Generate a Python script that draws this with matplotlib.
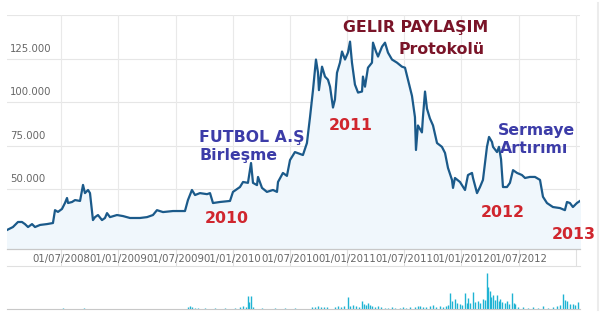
import matplotlib
matplotlib.use('Agg')
import matplotlib.pyplot as plt
from matplotlib.lines import Line2D

# fiyat serisi (zaman ondalik yil olarak)
price_t = [2008.025, 2008.077, 2008.121, 2008.156, 2008.182, 2008.209, 2008.244, 2008.270, 2008.314, 2008.375,
           2008.427, 2008.445, 2008.471, 2008.506, 2008.532, 2008.550, 2008.559, 2008.594, 2008.620, 2008.664,
           2008.690, 2008.707, 2008.734, 2008.751, 2008.777, 2008.795, 2008.821, 2008.856, 2008.882, 2008.900,
           2008.926, 2008.987, 2009.040, 2009.101, 2009.188, 2009.250, 2009.302, 2009.337, 2009.390, 2009.477,
           2009.582, 2009.608, 2009.643, 2009.670, 2009.713, 2009.775, 2009.801, 2009.827, 2009.888, 2009.976,
           2010.002, 2010.063, 2010.090, 2010.133, 2010.160, 2010.177, 2010.212, 2010.221, 2010.256, 2010.299,
           2010.352, 2010.387, 2010.396, 2010.439, 2010.474, 2010.501, 2010.544, 2010.614, 2010.649, 2010.676,
           2010.702, 2010.728, 2010.746, 2010.754, 2010.781, 2010.807, 2010.833, 2010.851, 2010.877, 2010.894,
           2010.912, 2010.938, 2010.956, 2010.982, 2011.008, 2011.026, 2011.043, 2011.069, 2011.096, 2011.131,
           2011.139, 2011.157, 2011.183, 2011.218, 2011.227, 2011.253, 2011.271, 2011.306, 2011.332, 2011.358,
           2011.393, 2011.437, 2011.480, 2011.507, 2011.533, 2011.568, 2011.594, 2011.603, 2011.620, 2011.655,
           2011.664, 2011.682, 2011.699, 2011.725, 2011.752, 2011.787, 2011.830, 2011.857, 2011.883, 2011.918,
           2011.927, 2011.944, 2011.988, 2012.032, 2012.058, 2012.093, 2012.102, 2012.137, 2012.163, 2012.189,
           2012.207, 2012.224, 2012.242, 2012.268, 2012.277, 2012.312, 2012.329, 2012.347, 2012.364, 2012.399,
           2012.425, 2012.452, 2012.487, 2012.530, 2012.557, 2012.600, 2012.644, 2012.688, 2012.714, 2012.749,
           2012.801, 2012.863, 2012.906, 2012.924, 2012.950, 2012.976, 2013.011, 2013.038]
price = [26600, 28300, 31200, 31200, 30000, 28300, 30000, 28300, 29500, 30000,
         30600, 38000, 37000, 38700, 42100, 45000, 42100, 42700, 43800, 43300,
         52500, 47800, 49600, 47800, 32300, 34000, 35200, 32300, 33500, 36300,
         34000, 35200, 34600, 33500, 33500, 34000, 35200, 38000, 36900, 37500,
         37500, 43800, 49600, 46700, 47800, 47200, 47800, 42100, 42700, 43300,
         48500, 51300, 54200, 53700, 65100, 53700, 52400, 57100, 50800, 48500,
         49600, 48500, 54200, 59400, 57700, 66800, 71400, 69700, 76600, 91500,
         107000, 124600, 117000, 107000, 120500, 114800, 113000, 109000, 97000, 101600,
         117000, 122800, 129200, 124600, 128600, 134900, 122800, 110200, 105600, 106200,
         114800, 109000, 119900, 122800, 134300, 129200, 126300, 132000, 134300, 128600,
         124600, 122800, 120500, 119900, 113000, 103700, 91500, 72600, 86700, 82700,
         91500, 106200, 96400, 90700, 86700, 76600, 74400, 70900, 62300, 55400,
         50800, 56500, 54200, 49600, 58200, 59400, 56500, 47800, 51300, 55400,
         65100, 74400, 80100, 77200, 74400, 71400, 74400, 67300, 51300, 51300,
         53700, 61000, 59400, 58200, 56500, 57100, 57100, 55400, 45700, 42100,
         39800, 39200, 38000, 42700, 42100, 39800, 42100, 43300]

# islem hacmi (goreceli)
vol_t = [2008.515, 2008.699, 2009.609, 2009.626, 2009.644, 2009.670, 2009.696, 2009.757, 2009.845, 2009.932,
         2010.020, 2010.064, 2010.090, 2010.116, 2010.134, 2010.142, 2010.160, 2010.177, 2010.256, 2010.370,
         2010.457, 2010.545, 2010.693, 2010.720, 2010.746, 2010.772, 2010.798, 2010.825, 2010.895, 2010.921,
         2010.947, 2010.973, 2011.008, 2011.026, 2011.052, 2011.078, 2011.105, 2011.131, 2011.148, 2011.166,
         2011.183, 2011.201, 2011.218, 2011.245, 2011.271, 2011.297, 2011.332, 2011.358, 2011.393, 2011.419,
         2011.463, 2011.489, 2011.516, 2011.551, 2011.594, 2011.621, 2011.638, 2011.664, 2011.691, 2011.726,
         2011.752, 2011.778, 2011.813, 2011.839, 2011.866, 2011.883, 2011.901, 2011.918, 2011.944, 2011.962,
         2011.988, 2012.006, 2012.032, 2012.049, 2012.058, 2012.076, 2012.102, 2012.119, 2012.146, 2012.163,
         2012.189, 2012.207, 2012.224, 2012.233, 2012.251, 2012.259, 2012.277, 2012.294, 2012.312, 2012.329,
         2012.338, 2012.356, 2012.382, 2012.399, 2012.417, 2012.443, 2012.460, 2012.469, 2012.495, 2012.539,
         2012.583, 2012.627, 2012.670, 2012.714, 2012.758, 2012.802, 2012.837, 2012.863, 2012.889, 2012.907,
         2012.924, 2012.950, 2012.977, 2012.994, 2013.020]
vol = [1, 1, 2, 3, 2, 1, 1, 1, 1, 1,
       1, 2, 3, 2, 13, 7, 13, 2, 1, 1,
       1, 1, 2, 2, 3, 2, 2, 2, 2, 3,
       2, 3, 12, 3, 4, 3, 2, 8, 5, 4,
       6, 4, 3, 2, 3, 2, 1, 1, 2, 1,
       1, 2, 1, 2, 2, 3, 3, 2, 2, 3,
       4, 2, 3, 2, 3, 4, 16, 8, 10, 6,
       5, 4, 16, 6, 11, 6, 17, 7, 8, 6,
       10, 9, 36, 22, 18, 12, 14, 9, 14, 8,
       10, 7, 6, 8, 5, 16, 6, 5, 2, 2,
       1, 2, 1, 3, 1, 2, 3, 4, 15, 9,
       8, 5, 5, 4, 7]

tick_pos = [2008.5, 2009.0, 2009.5, 2010.0, 2010.5, 2011.0, 2011.5, 2012.0, 2012.5, 2013.0]
tick_labels = ['01/07/2008', '01/01/2009', '01/07/2009', '01/01/2010', '01/07/2010',
               '01/01/2011', '01/07/2011', '01/01/2012', '01/07/2012', '']
y_grid = [25000, 50000, 75000, 100000, 125000, 150000]
y_labels = {50000: '50.000', 75000: '75.000', 100000: '100.000', 125000: '125.000'}

W, H = 609, 316
fig = plt.figure(figsize=(W / 100, H / 100), dpi=100)

ax = fig.add_axes([7 / W, 1 - 249.3 / H, 573 / W, (249.3 - 15) / H])
axv = fig.add_axes([7 / W, 1 - 308.7 / H, 573 / W, (308.7 - 266) / H])

xmin, xmax = 2008.025, 2013.038

# ana grafik
ax.fill_between(price_t, price, 0, color='#f0f7fc', zorder=1)
ax.plot(price_t, price, color='#1b5a8a', lw=1.6, zorder=3)
ax.set_xlim(xmin, xmax)
ax.set_ylim(15500, 150200)

for v in y_grid:
    ax.axhline(v, color='#e6e6e6', lw=0.8, zorder=0)
for t in tick_pos:
    ax.axvline(t, color='#e9e9e9', lw=0.8, zorder=0)

ax.set_yticks([])
ax.set_xticks(tick_pos)
ax.set_xticklabels(tick_labels, fontsize=7.3, color='#666666')
ax.tick_params(axis='x', direction='out', length=12.2, width=0.8, color='#e0e0e0', pad=-8.6)
for s in ['top', 'left', 'right']:
    ax.spines[s].set_visible(False)
ax.spines['bottom'].set_color('#c8c8c8')
ax.spines['bottom'].set_linewidth(0.9)

for v, lab in y_labels.items():
    ax.annotate(lab, xy=(0, v), xycoords=('axes fraction', 'data'),
                xytext=(3, 5), textcoords='offset pixels',
                fontsize=7.3, color='#666666', ha='left', va='bottom')

# olay notlari
blue = '#3c3ca8'
red = '#d0262e'
dred = '#7a1428'
fs = 11.3
ax.text(2012.233, 143300, 'GELIR PAYLAŞIM', color=dred, fontsize=fs, fontweight='bold', ha='right', va='center')
ax.text(2012.207, 130600, 'Protokolü', color=dred, fontsize=fs, fontweight='bold', ha='right', va='center')
ax.text(2009.705, 77200, 'FUTBOL A.Ş', color=blue, fontsize=fs, fontweight='bold', ha='left', va='baseline')
ax.text(2009.705, 66840, 'Birleşme', color=blue, fontsize=fs, fontweight='bold', ha='left', va='baseline')
ax.text(2012.320, 81200, 'Sermaye', color=blue, fontsize=fs, fontweight='bold', ha='left', va='baseline')
ax.text(2012.338, 70860, 'Artırımı', color=blue, fontsize=fs, fontweight='bold', ha='left', va='baseline')
ax.text(2009.757, 30460, '2010', color=red, fontsize=fs, fontweight='bold', ha='left', va='baseline')
ax.text(2010.842, 84080, '2011', color=red, fontsize=fs, fontweight='bold', ha='left', va='baseline')
ax.text(2012.172, 34080, '2012', color=red, fontsize=fs, fontweight='bold', ha='left', va='baseline')
ax.text(2012.793, 21440, '2013', color=red, fontsize=fs, fontweight='bold', ha='left', va='baseline')

# hacim paneli
axv.vlines(vol_t, 0, vol, color='#1fb3d3', lw=1.0)
axv.set_xlim(xmin, xmax)
axv.set_ylim(0, 42.7)
axv.set_xticks([])
axv.set_yticks([])
for s in ['left', 'right']:
    axv.spines[s].set_visible(False)
axv.spines['top'].set_color('#e0e0e0')
axv.spines['bottom'].set_color('#c8c8c8')

# sag kenar cizgisi
fig.add_artist(Line2D([597.5 / W, 597.5 / W], [1 - 310 / H, 1 - 3 / H], color='#ececec', lw=1.5))

fig.savefig('out.png', dpi=100)
